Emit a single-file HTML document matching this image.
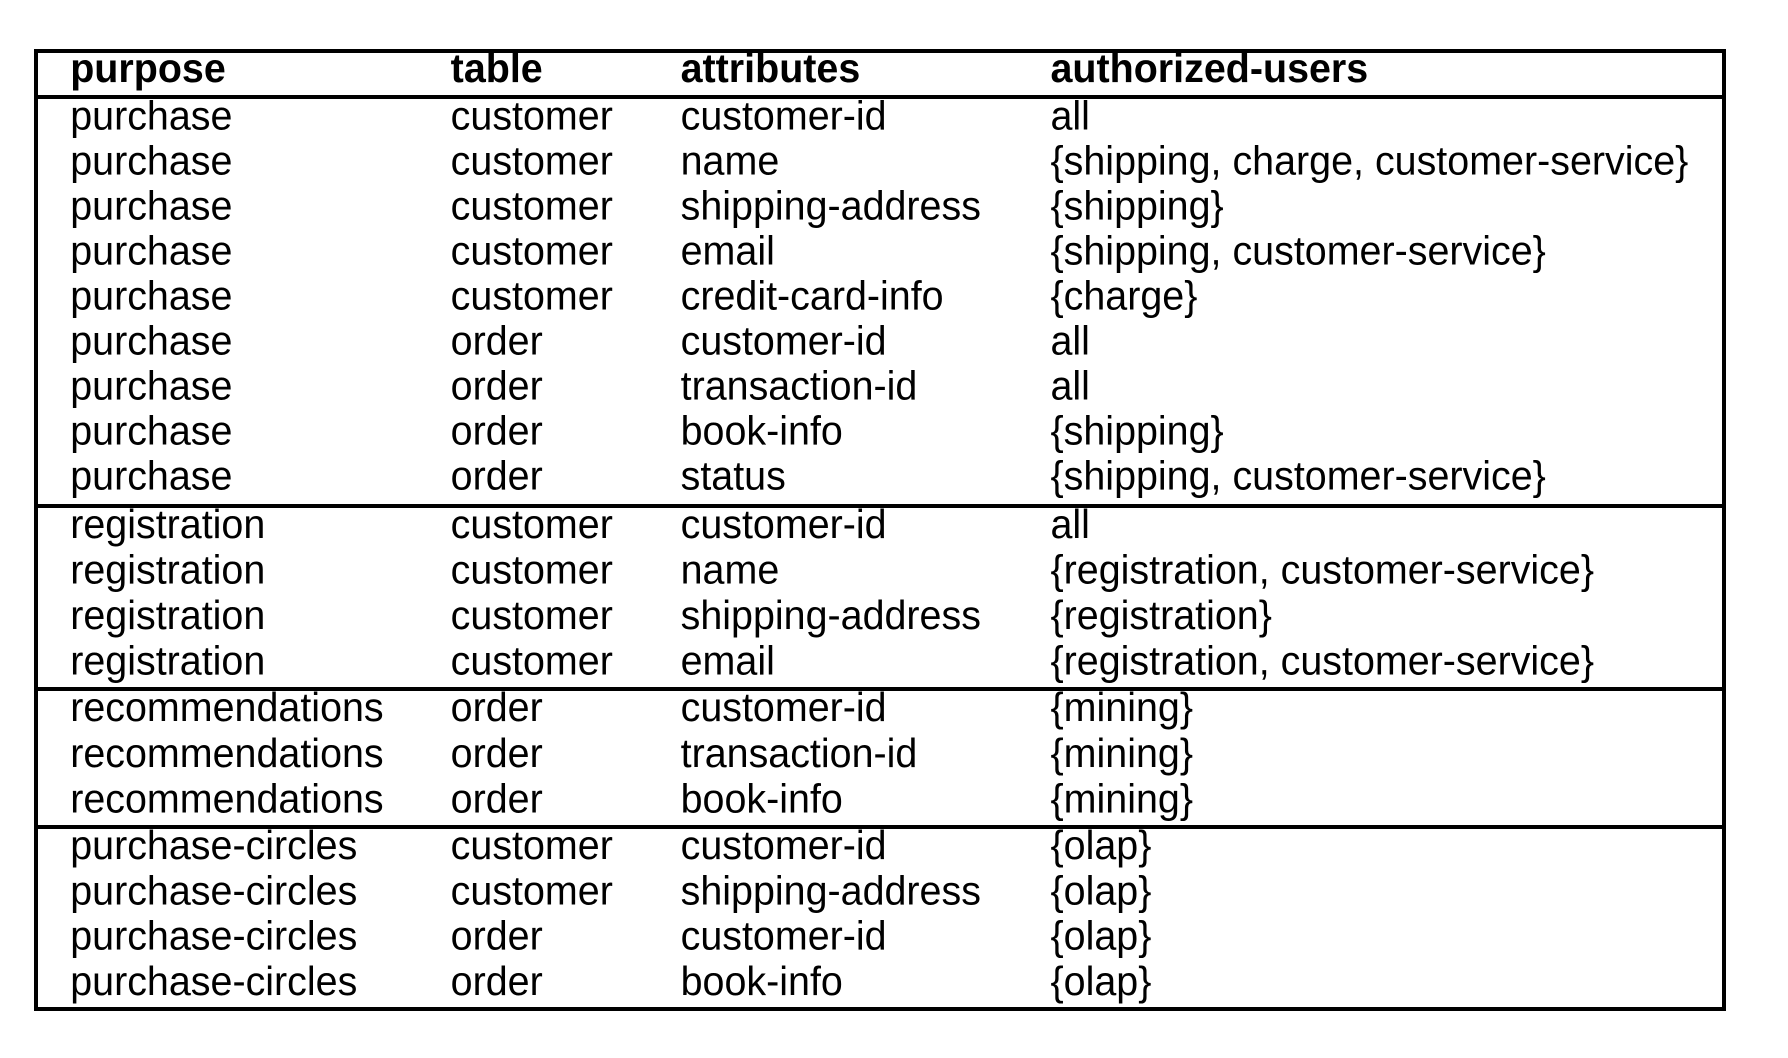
<!DOCTYPE html>
<html><head><meta charset="utf-8"><style>
html,body{margin:0;padding:0;background:#fff;}
svg{display:block;}
text{font-family:"Liberation Sans",Arial,sans-serif;font-size:41px;fill:#000;}
.h{font-weight:bold;}
</style></head><body>
<svg width="1788" height="1058" viewBox="0 0 1788 1058" xmlns="http://www.w3.org/2000/svg">
<rect x="0" y="0" width="1788" height="1058" fill="#fff"/>
<g stroke="#000" stroke-width="4" fill="none">
<rect x="36" y="51" width="1688" height="958"/>
<line x1="36" y1="97" x2="1724" y2="97"/>
<line x1="36" y1="506" x2="1724" y2="506"/>
<line x1="36" y1="689" x2="1724" y2="689"/>
<line x1="36" y1="827" x2="1724" y2="827"/>
</g>
<g transform="scale(0.962,1)">
<text class="h" x="73" y="82">purpose</text>
<text class="h" x="468.5" y="82">table</text>
<text class="h" x="707.5" y="82">attributes</text>
<text class="h" x="1092" y="82">authorized-users</text>

<text x="73" y="129.5">purchase</text><text x="468.5" y="129.5">customer</text><text x="707.5" y="129.5">customer-id</text><text x="1092" y="129.5">all</text>
<text x="73" y="174.5">purchase</text><text x="468.5" y="174.5">customer</text><text x="707.5" y="174.5">name</text><text x="1092" y="174.5">{shipping, charge, customer-service}</text>
<text x="73" y="219.5">purchase</text><text x="468.5" y="219.5">customer</text><text x="707.5" y="219.5">shipping-address</text><text x="1092" y="219.5">{shipping}</text>
<text x="73" y="264.5">purchase</text><text x="468.5" y="264.5">customer</text><text x="707.5" y="264.5">email</text><text x="1092" y="264.5">{shipping, customer-service}</text>
<text x="73" y="309.5">purchase</text><text x="468.5" y="309.5">customer</text><text x="707.5" y="309.5">credit-card-info</text><text x="1092" y="309.5">{charge}</text>
<text x="73" y="354.5">purchase</text><text x="468.5" y="354.5">order</text><text x="707.5" y="354.5">customer-id</text><text x="1092" y="354.5">all</text>
<text x="73" y="399.5">purchase</text><text x="468.5" y="399.5">order</text><text x="707.5" y="399.5">transaction-id</text><text x="1092" y="399.5">all</text>
<text x="73" y="444.5">purchase</text><text x="468.5" y="444.5">order</text><text x="707.5" y="444.5">book-info</text><text x="1092" y="444.5">{shipping}</text>
<text x="73" y="489.5">purchase</text><text x="468.5" y="489.5">order</text><text x="707.5" y="489.5">status</text><text x="1092" y="489.5">{shipping, customer-service}</text>

<text x="73" y="538">registration</text><text x="468.5" y="538">customer</text><text x="707.5" y="538">customer-id</text><text x="1092" y="538">all</text>
<text x="73" y="583.5">registration</text><text x="468.5" y="583.5">customer</text><text x="707.5" y="583.5">name</text><text x="1092" y="583.5">{registration, customer-service}</text>
<text x="73" y="629">registration</text><text x="468.5" y="629">customer</text><text x="707.5" y="629">shipping-address</text><text x="1092" y="629">{registration}</text>
<text x="73" y="674.5">registration</text><text x="468.5" y="674.5">customer</text><text x="707.5" y="674.5">email</text><text x="1092" y="674.5">{registration, customer-service}</text>

<text x="73" y="721">recommendations</text><text x="468.5" y="721">order</text><text x="707.5" y="721">customer-id</text><text x="1092" y="721">{mining}</text>
<text x="73" y="767">recommendations</text><text x="468.5" y="767">order</text><text x="707.5" y="767">transaction-id</text><text x="1092" y="767">{mining}</text>
<text x="73" y="812.5">recommendations</text><text x="468.5" y="812.5">order</text><text x="707.5" y="812.5">book-info</text><text x="1092" y="812.5">{mining}</text>

<text x="73" y="859">purchase-circles</text><text x="468.5" y="859">customer</text><text x="707.5" y="859">customer-id</text><text x="1092" y="859">{olap}</text>
<text x="73" y="904.5">purchase-circles</text><text x="468.5" y="904.5">customer</text><text x="707.5" y="904.5">shipping-address</text><text x="1092" y="904.5">{olap}</text>
<text x="73" y="949.5">purchase-circles</text><text x="468.5" y="949.5">order</text><text x="707.5" y="949.5">customer-id</text><text x="1092" y="949.5">{olap}</text>
<text x="73" y="995">purchase-circles</text><text x="468.5" y="995">order</text><text x="707.5" y="995">book-info</text><text x="1092" y="995">{olap}</text>
</g>
</svg>
</body></html>
